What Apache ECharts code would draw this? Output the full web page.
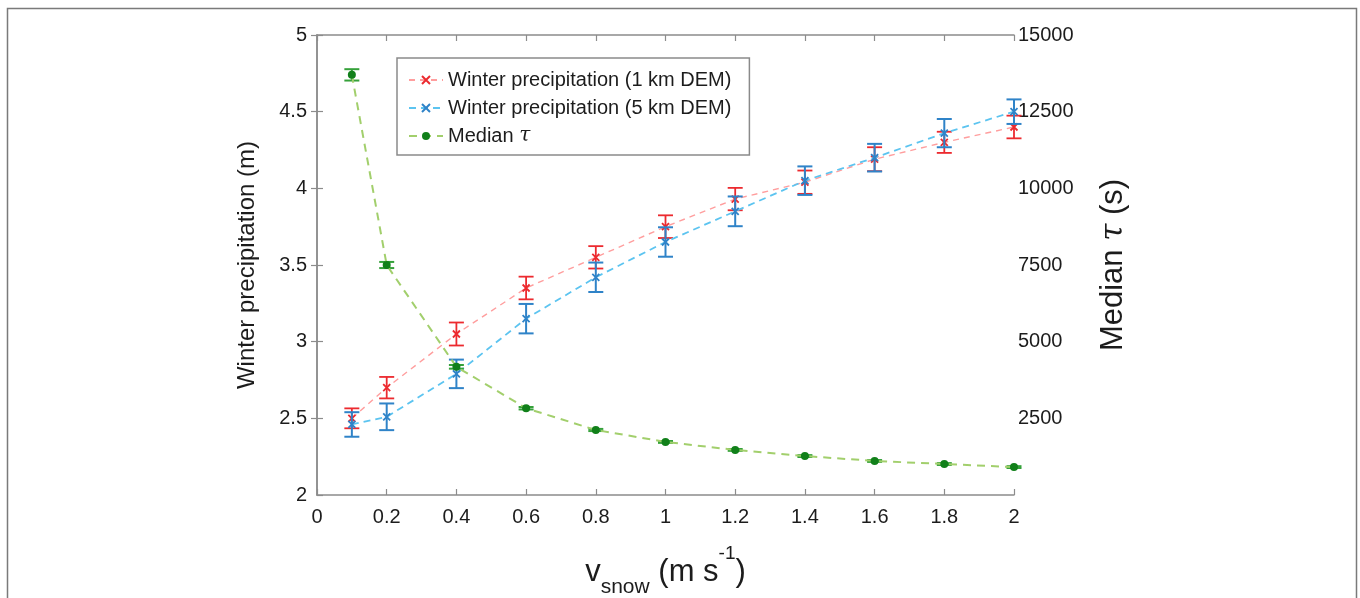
<!DOCTYPE html>
<html>
<head>
    <meta charset="utf-8">
    <script type="text/javascript" src="https://cdn.jsdelivr.net/npm/echarts@6/dist/echarts.min.js"></script>
    <style type="text/css">
        * {
            margin: 0;
            padding: 0;
        }
        body {
            background: #fff;
        }
        #container {
            width: 1360px;
            height: 598px;
        }
    </style>
</head>
<body>
<div id="container"></div>

<script type="text/javascript">

    // snow fall speed (m s-1)
    var vSnow = [0.1, 0.2, 0.4, 0.6, 0.8, 1.0, 1.2, 1.4, 1.6, 1.8, 2.0];
    // winter precipitation, 1 km DEM (m) and error
    var precip1km = [2.50, 2.70, 3.05, 3.35, 3.55, 3.75, 3.93, 4.04, 4.19, 4.30, 4.40];
    var err1km = [0.065, 0.07, 0.075, 0.074, 0.073, 0.074, 0.073, 0.076, 0.078, 0.069, 0.074];
    // winter precipitation, 5 km DEM (m) and error
    var precip5km = [2.46, 2.51, 2.79, 3.15, 3.42, 3.65, 3.85, 4.05, 4.20, 4.36, 4.50];
    var err5km = [0.08, 0.087, 0.093, 0.096, 0.096, 0.096, 0.097, 0.093, 0.09, 0.092, 0.08];
    // median tau (s) and error
    var medianTau = [13700, 7500, 4180, 2830, 2120, 1730, 1470, 1270, 1110, 1010, 910];
    var tauErr = [185, 100, 60, 40, 35, 30, 30, 30, 30, 30, 30];

    var leftTicks = { min: 2, max: 5, step: 0.5 };
    var rightTicks = { min: 0, max: 15000, step: 2500 };
    var xTicks = { min: 0, max: 2, step: 0.2 };

    var red = '#ec2a2f';
    var redLine = '#ff9e9e';
    var blue = '#2f83c8';
    var blueLine = '#5cc4f0';
    var green = '#11801a';
    var greenBar = '#35a13a';
    var greenLine = '#a2cf6c';
    var axisColor = '#8c8c8c';
    var textColor = '#1c1c1c';
    var font = 'Liberation Sans, Arial, Helvetica, sans-serif';

    var crossPath = 'path://M0,0L10,10M10,0L0,10';

    // 误差线数据
    function barData(vals, errs) {
        return vSnow.map(function (x, i) {
            return [x, vals[i] - errs[i], vals[i] + errs[i]];
        });
    }

    function errorBar(color, capHalf, width) {
        return function (params, api) {
            var lo = api.coord([api.value(0), api.value(1)]);
            var hi = api.coord([api.value(0), api.value(2)]);
            var style = { stroke: color, lineWidth: width };
            return {
                type: 'group',
                children: [
                    { type: 'line', shape: { x1: lo[0], y1: lo[1], x2: hi[0], y2: hi[1] }, style: style },
                    { type: 'line', shape: { x1: lo[0] - capHalf, y1: lo[1], x2: lo[0] + capHalf, y2: lo[1] }, style: style },
                    { type: 'line', shape: { x1: hi[0] - capHalf, y1: hi[1], x2: hi[0] + capHalf, y2: hi[1] }, style: style }
                ]
            };
        };
    }

    function pairs(vals) {
        return vSnow.map(function (x, i) { return [x, vals[i]]; });
    }

    var dom = document.getElementById('container');
    var myChart = echarts.init(dom, null, { renderer: 'canvas' });

    var axisLine = { show: true, lineStyle: { color: axisColor, width: 1.5 } };
    var axisTick = { show: true, inside: true, length: 6, lineStyle: { color: axisColor, width: 1.2 } };

    var option = {
        animation: false,
        backgroundColor: '#fff',
        graphic: [{
            type: 'rect',
            left: 5,
            top: 6,
            shape: { width: 1349, height: 620 },
            style: { fill: 'none', stroke: '#7a7a7a', lineWidth: 1.5 },
            z: -10
        }],
        grid: {
            left: 317,
            right: 346,
            top: 35,
            bottom: 103,
            containLabel: false,
            outerBoundsMode: 'none'
        },
        legend: {
            orient: 'vertical',
            left: 397,
            top: 58,
            padding: [12, 18, 9, 11],
            itemGap: 8,
            itemWidth: 34,
            itemHeight: 10,
            borderColor: '#8a8a8a',
            borderWidth: 1.5,
            backgroundColor: '#fff',
            data: ['Winter precipitation (1 km DEM)', 'Winter precipitation (5 km DEM)', 'Median τ'],
            formatter: function (name) {
                if (name === 'Median τ') {
                    return 'Median {i|τ}';
                }
                return name;
            },
            textStyle: {
                color: textColor,
                fontSize: 20,
                fontFamily: font,
                rich: {
                    i: { fontStyle: 'italic', fontSize: 20, fontFamily: 'DejaVu Serif', color: textColor }
                }
            }
        },
        xAxis: [{
            type: 'value',
            min: xTicks.min,
            max: xTicks.max,
            interval: xTicks.step,
            position: 'bottom',
            axisLine: axisLine,
            axisTick: axisTick,
            splitLine: { show: false },
            axisLabel: {
                color: textColor,
                fontSize: 20,
                fontFamily: font,
                margin: 12
            },
            name: '{v|v}{sub|snow}{v| (m s}{sup|-1}{v|)}',
            nameLocation: 'middle',
            nameGap: 57,
            nameTextStyle: {
                rich: {
                    v: { fontSize: 31, fontFamily: font, color: textColor, verticalAlign: 'bottom', lineHeight: 36 },
                    sub: { fontSize: 21, fontFamily: font, color: textColor, verticalAlign: 'bottom', lineHeight: 36, padding: [0, 0, -10, 0] },
                    sup: { fontSize: 19, fontFamily: font, color: textColor, verticalAlign: 'top', lineHeight: 36, padding: [-8, 0, 0, 0] }
                }
            }
        }, {
            type: 'value',
            min: xTicks.min,
            max: xTicks.max,
            interval: xTicks.step,
            position: 'top',
            axisLine: axisLine,
            axisTick: axisTick,
            axisLabel: { show: false },
            splitLine: { show: false }
        }],
        yAxis: [{
            type: 'value',
            min: leftTicks.min,
            max: leftTicks.max,
            interval: leftTicks.step,
            position: 'left',
            axisLine: axisLine,
            axisTick: axisTick,
            splitLine: { show: false },
            axisLabel: {
                color: textColor,
                fontSize: 20,
                fontFamily: font,
                margin: 10
            },
            name: 'Winter precipitation (m)',
            nameLocation: 'middle',
            nameGap: 58,
            nameRotate: 90,
            nameTextStyle: {
                color: textColor,
                fontSize: 24,
                fontFamily: font
            }
        }, {
            type: 'value',
            min: rightTicks.min,
            max: rightTicks.max,
            interval: rightTicks.step,
            position: 'right',
            axisLine: axisLine,
            axisTick: axisTick,
            splitLine: { show: false },
            axisLabel: {
                color: textColor,
                fontSize: 20,
                fontFamily: font,
                margin: 4,
                showMinLabel: false,
                formatter: function (v) {
                    return String(v);
                }
            },
            name: 'Median {i|τ} (s)',
            nameLocation: 'middle',
            nameGap: 84,
            nameRotate: 90,
            nameTextStyle: {
                color: textColor,
                fontSize: 31,
                fontFamily: font,
                rich: {
                    i: { fontStyle: 'italic', fontSize: 31, fontFamily: 'DejaVu Serif', color: textColor }
                }
            }
        }],
        series: [
            {
                name: 'Winter precipitation (1 km DEM)',
                type: 'line',
                xAxisIndex: 0,
                yAxisIndex: 0,
                data: pairs(precip1km),
                symbol: crossPath,
                symbolSize: 7,
                itemStyle: { color: 'transparent', borderColor: red, borderWidth: 1.8 },
                lineStyle: { color: redLine, width: 1.4, type: [6, 5] },
                z: 3
            },
            {
                type: 'custom',
                xAxisIndex: 0,
                yAxisIndex: 0,
                renderItem: errorBar(red, 7.5, 1.8),
                data: barData(precip1km, err1km),
                z: 3
            },
            {
                name: 'Winter precipitation (5 km DEM)',
                type: 'line',
                xAxisIndex: 0,
                yAxisIndex: 0,
                data: pairs(precip5km),
                symbol: crossPath,
                symbolSize: 7,
                itemStyle: { color: 'transparent', borderColor: blue, borderWidth: 1.8 },
                lineStyle: { color: blueLine, width: 1.8, type: [7, 5] },
                z: 4
            },
            {
                type: 'custom',
                xAxisIndex: 0,
                yAxisIndex: 0,
                renderItem: errorBar(blue, 7.5, 2),
                data: barData(precip5km, err5km),
                z: 4
            },
            {
                name: 'Median τ',
                type: 'line',
                xAxisIndex: 0,
                yAxisIndex: 1,
                data: pairs(medianTau),
                symbol: 'circle',
                symbolSize: 8,
                itemStyle: { color: green },
                lineStyle: { color: greenLine, width: 2, type: [8, 6] },
                z: 5
            },
            {
                type: 'custom',
                xAxisIndex: 0,
                yAxisIndex: 1,
                renderItem: errorBar(greenBar, 7.5, 2),
                data: barData(medianTau, tauErr),
                z: 5
            }
        ]
    };

    if (option && typeof option === 'object') {
        myChart.setOption(option, true);
    }

</script>
</body>
</html>
